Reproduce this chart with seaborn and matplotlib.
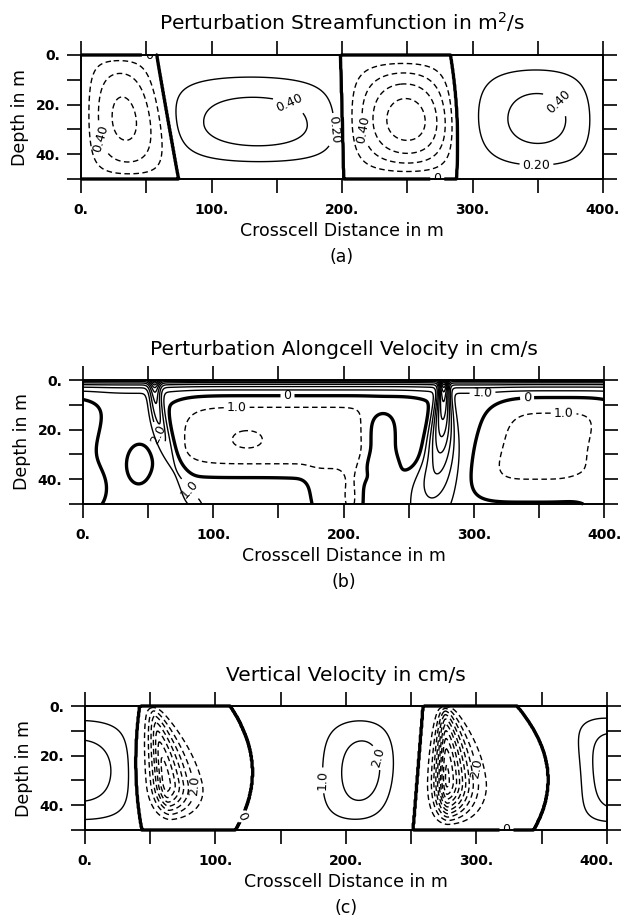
import numpy as np
import seaborn as sns
import matplotlib.pyplot as plt
from matplotlib.transforms import ScaledTranslation

sns.set_style("ticks")
plt.rcParams["font.family"] = ["DejaVu Sans"]
plt.rcParams.update({"text.color": "black", "axes.labelcolor": "black",
                     "xtick.color": "black", "ytick.color": "black",
                     "axes.edgecolor": "black"})

WIDTH = 400.0
DEPTH = 50.0

# (a) streamfunction rolls, m^2/s; zero lines given at top, mid depth, bottom
psi_edges = [[-0.5, -0.5, -0.5], [58.0, 66.4, 74.8], [198.7, 200.0, 201.2],
             [283.0, 288.0, 287.6], [400.5, 400.5, 400.5]]
psi_peak = [-0.66, 0.52, -0.92, 0.48]
psi_skew = [1.0, 1.0, 1.2, 1.16]
psi_xexp = [1.0, 0.5, 0.85, 0.8]
psi_tpeak = [0.52, 0.56, 0.53, 0.52]
psi_zexp = [0.6, 1.3, 0.95, 0.85]

# (b) alongcell velocity, cm/s
surface_speed = 6.0
surface_depth = 2.5
background = 0.3
blob_amp = [-2.0, -0.6, -0.7, -1.0, 2.4, 0.5, -1.6, -0.8, -0.7]
blob_x = [168, 126, 192, 206, 230, 115, 355, 402, 43]
blob_z = [24, 24, 46, 48, 26, 50, 26.5, 44, 34]
blob_sx = [100, 14, 20, 7, 15, 55, 48, 16, 10.3]
blob_szu = [18, 4.5, 12, 14, 14, 8, 20, 10, 8.7]
blob_szd = [13, 4.5, 12, 14, 11, 8, 20, 10, 8.7]
blob_mx = [8, 2, 4, 2, 2, 4, 4, 2, 2]
blob_mz = [3, 2, 2, 2, 4, 2, 4, 2, 2]
blob_tilt = [0, 0, 0, 0, 0, 0, -0.5, 0, 0]
plume_amp = [4.0, 7.0]
plume_x = [55, 277]
plume_shift = [30, -10]
plume_wtop = [4, 3]
plume_wbot = [9, 18]
plume_decay = [32, 40]

# (c) vertical velocity, cm/s; upwelling and downwelling cells alternate
w_edges = [[-40.0, -40.0, -40.0], [42.1, 39.0, 43.4], [111.0, 128.0, 115.0],
           [259.3, 255.5, 251.6], [330.8, 354.0, 343.5], [460.0, 460.0, 460.0]]
up_peak = [2.65, 2.6, 3.1]
up_skew = [0.87, 1.67, 1.0]
up_xexp = [0.6, 2.5, 3.0]
up_tpeak = [0.52, 0.52, 0.52]
up_top = [0.92, 0.92, 0.92]
up_bottom = [0.75, 0.75, 0.75]
down_peak = [-7.6, -10.3]
down_centre = [[52, 60, 66], [276, 277, 278]]
down_wleft = [[5.5, 9, 10], [5, 8.3, 9]]
down_wright = [[5.5, 17, 17], [6, 17, 16]]
down_tpeak = [0.62, 0.6]
down_top = [0.58, 0.55]
down_bottom = [1.88, 1.34]

x = np.linspace(0, WIDTH, 801)
z = np.linspace(0, DEPTH, 201)
X, Z = np.meshgrid(x, z)
T = Z / DEPTH


def edge_curve(vals):
    # smooth curve through the top, mid-depth and bottom values
    top, mid, bot = vals
    return top * (1 - T) * (1 - 2 * T) + 4 * mid * T * (1 - T) + bot * T * (2 * T - 1)


def vertical_profile(t_peak, top_exp, bottom_exp):
    up = np.sin(0.5 * np.pi * np.clip(T / t_peak, 0, 1)) ** top_exp
    down = np.sin(0.5 * np.pi * np.clip((1 - T) / (1 - t_peak), 0, 1)) ** bottom_exp
    return np.where(T < t_peak, up, down)


def roll_cell(left, right, peak, skew, xexp, t_peak, top_exp, bottom_exp):
    a = edge_curve(left)
    b = edge_curve(right)
    s = (X - a) / (b - a)
    inside = (s >= 0) & (s <= 1)
    horiz = np.sin(np.pi * np.clip(s, 0, 1) ** skew) ** xexp + 1e-6
    return np.where(inside, peak * horiz * vertical_profile(t_peak, top_exp, bottom_exp), 0.0)


def jet_cell(left, right, peak, centre, wleft, wright, t_peak, top_exp, bottom_exp):
    a = edge_curve(left)
    b = edge_curve(right)
    xc = edge_curve(centre)
    wid = np.where(X < xc, edge_curve(wleft), edge_curve(wright))
    inside = (X >= a) & (X <= b)
    horiz = np.exp(-np.abs((X - xc) / wid) ** 1.6) + 1e-6
    return np.where(inside, peak * horiz * vertical_profile(t_peak, top_exp, bottom_exp), 0.0)


def blob(i):
    out = 0.0
    sz = np.where(Z < blob_z[i], blob_szu[i], blob_szd[i])
    for shift in (-WIDTH, 0.0, WIDTH):
        xc = blob_x[i] + shift + blob_tilt[i] * (Z - blob_z[i])
        out = out + blob_amp[i] * np.exp(-np.abs((X - xc) / blob_sx[i]) ** blob_mx[i]
                                         - np.abs((Z - blob_z[i]) / sz) ** blob_mz[i])
    return out


def plume(i):
    xc = plume_x[i] + plume_shift[i] * T ** 2
    wid = plume_wtop[i] + (plume_wbot[i] - plume_wtop[i]) * T
    return plume_amp[i] * np.exp(-(Z / plume_decay[i]) ** 2) * np.exp(-((X - xc) / wid) ** 2)


psi = sum(roll_cell(psi_edges[i], psi_edges[i + 1], psi_peak[i], psi_skew[i], psi_xexp[i],
                    psi_tpeak[i], psi_zexp[i], psi_zexp[i]) for i in range(4))
psi[0, :] = psi[-1, :] = 1e-9

along = surface_speed * np.exp(-Z / surface_depth) + background
along = along + sum(blob(i) for i in range(len(blob_amp))) + sum(plume(i) for i in range(2))

vert = 0.0
for k in range(3):
    i = 2 * k
    vert = vert + roll_cell(w_edges[i], w_edges[i + 1], up_peak[k], up_skew[k], up_xexp[k],
                            up_tpeak[k], up_top[k], up_bottom[k])
for k in range(2):
    i = 2 * k + 1
    vert = vert + jet_cell(w_edges[i], w_edges[i + 1], down_peak[k], down_centre[k],
                           down_wleft[k], down_wright[k], down_tpeak[k], down_top[k], down_bottom[k])
vert[0, :] = vert[-1, :] = 1e-9

panels = [
    dict(field=psi, title="Perturbation Streamfunction in m$^2$/s", tag="(a)",
         neg=[-0.8, -0.6, -0.4, -0.2], pos=[0.2, 0.4], fmt="{:.2f}",
         box=[81, 55, 603, 179],
         zero_lab=[(52, 0.5), (273, 49.5)], neg_lab=[(20, 33), (219, 30)],
         pos_lab=[(158, 21.5), (188, 30), (365, 19), (349, 44.7)]),
    dict(field=along, title="Perturbation Alongcell Velocity in cm/s", tag="(b)",
         neg=[-2.0, -1.0], pos=list(np.arange(1.0, 14.0)), fmt="{:.1f}",
         box=[83, 380, 604, 504],
         zero_lab=[(157, 5.4), (341, 7.7)], neg_lab=[(118, 11.4), (369, 13.5)],
         pos_lab=[(57, 22), (84, 43), (307, 8.8)]),
    dict(field=vert, title="Vertical Velocity in cm/s", tag="(c)",
         neg=list(np.arange(-10.0, 0.0)), pos=[1.0, 2.0, 3.0], fmt="{:.1f}",
         box=[85, 706, 607, 830],
         zero_lab=[(118, 43.5), (323, 49.5)], neg_lab=[(84, 32), (301, 25)],
         pos_lab=[(182, 30), (226, 20.5)]),
]

W, H = 621, 922
fig = plt.figure(figsize=(W / 100, H / 100), dpi=100)

for p in panels:
    x0, y0, x1, y1 = p["box"]
    ax = fig.add_axes([x0 / W, 1 - y1 / H, (x1 - x0) / W, (y1 - y0) / H])
    fmt = lambda v, f=p["fmt"]: "0" if v == 0 else f.format(abs(v))

    cn = ax.contour(x, z, p["field"], levels=p["neg"], colors="black",
                    linewidths=1.0, linestyles=[(0, (4, 2.5))])
    c0 = ax.contour(x, z, p["field"], levels=[0.0], colors="black", linewidths=2.4)
    cp = ax.contour(x, z, p["field"], levels=p["pos"], colors="black", linewidths=1.0)
    c0.set_clip_on(False)

    for cs, pts in ((c0, p["zero_lab"]), (cn, p["neg_lab"]), (cp, p["pos_lab"])):
        ax.clabel(cs, fmt=fmt, manual=pts, inline=True, fontsize=9, inline_spacing=3)

    ax.set_xlim(0, WIDTH)
    ax.set_ylim(DEPTH, 0)
    ax.set_xticks(np.arange(0, 401, 50))
    ax.set_xticklabels(["0.", "", "100.", "", "200.", "", "300.", "", "400."])
    ax.set_yticks(np.arange(0, 51, 10))
    ax.set_yticklabels(["0.", "", "20.", "", "40.", ""])
    ax.tick_params(direction="out", length=10, width=1.2, top=True, right=True,
                   labelsize=10, pad=5)
    ax.tick_params(axis="x", pad=7)
    for lab in ax.get_xticklabels() + ax.get_yticklabels():
        lab.set_fontweight("bold")
    for sp in ax.spines.values():
        sp.set_linewidth(1.4)

    ax.set_title(p["title"], fontsize=14.5, pad=18)
    ax.set_xlabel("Crosscell Distance in m", fontsize=12.5, labelpad=4)
    ax.set_ylabel("Depth in m", fontsize=12.5, labelpad=5)
    fig.text((x0 + x1) / 2 / W, 1 - (y1 + 78) / H, p["tag"], ha="center", va="center",
             fontsize=12.5)

# the last panel sits close to the right edge: pull its "400." in a little
last = ax.get_xticklabels()[-1]
last.set_transform(last.get_transform() + ScaledTranslation(-0.1, 0, fig.dpi_scale_trans))

fig.savefig("out.png", dpi=100)
